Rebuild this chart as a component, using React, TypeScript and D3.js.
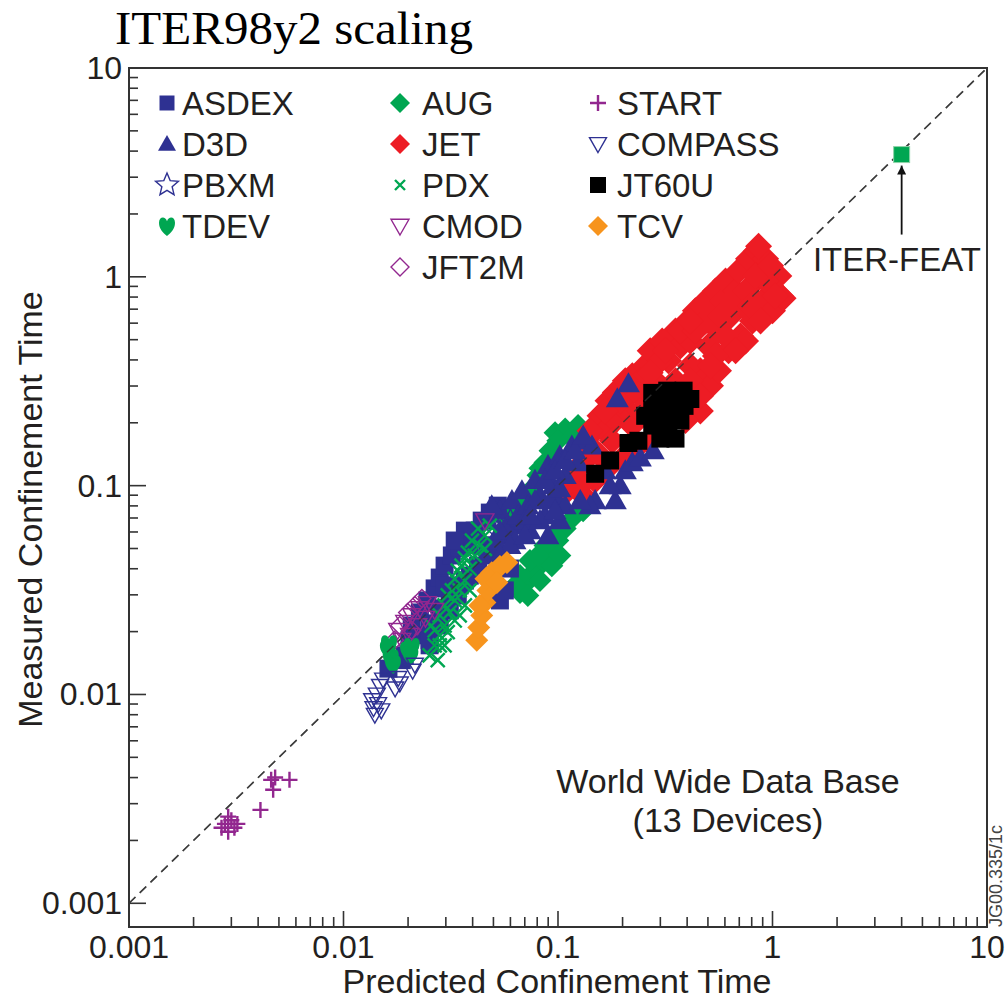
import * as d3 from 'd3';
import React, { useRef, useEffect } from 'react';

const width = 1005;
const height = 1001;
const frame = { left: 129, right: 987, top: 68, bottom: 927 };
const font = '"Liberation Sans", Arial, Helvetica, sans-serif';
const ink = '#231f20';

const xDomain = [0.001, 10];
const yDomain = [0.00077, 10];
const majorTicks = [0.001, 0.01, 0.1, 1, 10];
const majorLabels = ['0.001', '0.01', '0.1', '1', '10'];

// [predicted, measured]
const ASDEX = [
  [0.0162, 0.0133], [0.0187, 0.0146], [0.0203, 0.0182], [0.0208, 0.0214], [0.0227, 0.0247],
  [0.0246, 0.0282], [0.0266, 0.0322], [0.0281, 0.0363], [0.0296, 0.0414], [0.032, 0.0463],
  [0.0348, 0.0503], [0.038, 0.0546], [0.0409, 0.0609], [0.0441, 0.068], [0.0481, 0.0743],
  [0.0524, 0.0802], [0.0227, 0.0192], [0.0252, 0.0219], [0.0281, 0.0258], [0.0313, 0.0298],
  [0.0348, 0.0333], [0.0388, 0.0371], [0.0424, 0.0414], [0.0471, 0.0463], [0.0508, 0.0517],
  [0.0565, 0.0577], [0.063, 0.0644], [0.0536, 0.0282], [0.0565, 0.0315], [0.0597, 0.0401],
  [0.0252, 0.0172], [0.0193, 0.0154], [0.0368, 0.0609], [0.033, 0.0546], [0.0481, 0.0517],
  [0.0313, 0.0253], [0.0281, 0.0214], [0.0341, 0.0298], [0.0368, 0.0351], [0.0252, 0.0182],
  [0.0296, 0.0333],
];
const D3D = [
  [0.0388, 0.0517], [0.0432, 0.0577], [0.0471, 0.068], [0.0508, 0.0546], [0.0536, 0.0759],
  [0.0565, 0.0623], [0.061, 0.0848], [0.0651, 0.0719], [0.0679, 0.0946], [0.0723, 0.0802],
  [0.074, 0.0609], [0.0781, 0.106], [0.0824, 0.0896], [0.087, 0.0719], [0.0898, 0.125],
  [0.0948, 0.1], [0.0998, 0.0848], [0.102, 0.139], [0.108, 0.112], [0.108, 0.0802],
  [0.116, 0.155], [0.124, 0.129], [0.134, 0.164], [0.149, 0.0848], [0.185, 0.0848],
  [0.195, 0.1], [0.206, 0.118], [0.222, 0.129], [0.242, 0.136], [0.278, 0.147],
  [0.189, 0.261], [0.213, 0.308], [0.102, 0.068], [0.0898, 0.0577], [0.141, 0.0802],
  [0.166, 0.118], [0.175, 0.1], [0.144, 0.155], [0.087, 0.106], [0.0969, 0.118],
  [0.108, 0.132], [0.12, 0.147], [0.131, 0.173], [0.0781, 0.0848], [0.0918, 0.0848],
  [0.0701, 0.068], [0.0824, 0.068], [0.063, 0.0546], [0.0536, 0.0609], [0.127, 0.0848],
  [0.102, 0.0967], [0.0597, 0.0517], [0.0701, 0.0577], [0.0536, 0.0463], [0.074, 0.0719],
  [0.0969, 0.0759], [0.0491, 0.0802],
];
const PBXM = [[0.045, 0.052], [0.052, 0.06], [0.06, 0.068]];
const TDEV = [
  [0.0161, 0.0166], [0.0166, 0.015], [0.017, 0.014], [0.02, 0.0163], [0.0208, 0.017],
  [0.0205, 0.0155], [0.0163, 0.0175],
];
const AUG = [
  [0.108, 0.187], [0.124, 0.194], [0.141, 0.187], [0.0969, 0.179], [0.0998, 0.164],
  [0.0918, 0.147], [0.087, 0.129], [0.0824, 0.121], [0.0807, 0.112], [0.0756, 0.0967],
  [0.0723, 0.0915], [0.0701, 0.0866], [0.0651, 0.0802], [0.0597, 0.0743], [0.0565, 0.0695],
  [0.116, 0.17], [0.0665, 0.0308], [0.0715, 0.0344], [0.0781, 0.0392], [0.0665, 0.0371],
  [0.0842, 0.0438], [0.0918, 0.0489], [0.0998, 0.0546], [0.108, 0.0623], [0.116, 0.0695],
  [0.131, 0.0759], [0.074, 0.0438], [0.087, 0.0517], [0.063, 0.0333], [0.0807, 0.0463],
  [0.0969, 0.0577], [0.0936, 0.0414], [0.102, 0.0463], [0.0824, 0.0351], [0.0723, 0.0298],
];
const JET = [
  [0.111, 0.095], [0.124, 0.108], [0.131, 0.129], [0.141, 0.155], [0.149, 0.183],
  [0.157, 0.216], [0.171, 0.255], [0.185, 0.279], [0.166, 0.183], [0.185, 0.205],
  [0.206, 0.233], [0.199, 0.301], [0.222, 0.336], [0.242, 0.269], [0.255, 0.375],
  [0.269, 0.442], [0.284, 0.318], [0.306, 0.493], [0.327, 0.396], [0.353, 0.551],
  [0.372, 0.467], [0.393, 0.601], [0.414, 0.493], [0.437, 0.687], [0.461, 0.582],
  [0.487, 0.766], [0.503, 0.467], [0.525, 0.65], [0.542, 0.856], [0.56, 0.551],
  [0.585, 0.766], [0.604, 0.955], [0.624, 0.442], [0.637, 0.65], [0.673, 0.856],
  [0.695, 1.07], [0.71, 0.521], [0.725, 0.725], [0.773, 1.22], [0.79, 0.904],
  [0.807, 0.615], [0.843, 1.33], [0.88, 1.07], [0.899, 0.766], [0.929, 1.22],
  [0.98, 0.904], [1.0, 0.687], [1.07, 1.01], [1.09, 0.81], [0.461, 0.355],
  [0.514, 0.301], [0.56, 0.355], [0.414, 0.255], [0.461, 0.228], [0.393, 0.205],
  [0.175, 0.125], [0.199, 0.135], [0.229, 0.15], [0.264, 0.164], [0.149, 0.106],
  [0.131, 0.0896], [0.157, 0.139], [0.222, 0.194], [0.3, 0.205], [0.179, 0.164],
  [0.213, 0.269], [0.3, 0.269], [0.353, 0.318], [0.414, 0.375], [0.3, 0.396],
  [0.242, 0.318], [0.929, 0.955], [0.861, 1.4], [1.12, 0.79], [0.749, 0.493],
  [0.195, 0.255], [0.229, 0.285], [0.269, 0.347], [0.317, 0.442], [0.372, 0.551],
  [0.437, 0.551], [0.487, 0.615], [0.414, 0.615], [0.572, 0.65], [0.637, 0.766],
  [0.749, 0.856], [0.834, 1.01], [0.98, 1.13], [0.604, 0.521], [0.673, 0.442],
  [0.542, 0.418], [0.414, 0.318], [0.353, 0.255], [0.461, 0.269], [0.514, 0.375],
  [0.79, 0.725], [0.88, 0.615], [1.03, 0.81], [0.166, 0.228], [0.141, 0.183],
  [0.206, 0.318], [0.242, 0.228], [0.127, 0.1], [0.12, 0.118],
];
const PDX = [
  [0.0252, 0.0154], [0.0266, 0.0172], [0.0281, 0.0192], [0.0257, 0.0214], [0.0296, 0.0214],
  [0.0313, 0.0247], [0.0281, 0.0239], [0.033, 0.0282], [0.0306, 0.0298], [0.0348, 0.0315],
  [0.0368, 0.0351], [0.033, 0.0358], [0.0388, 0.04], [0.0355, 0.0414], [0.0409, 0.0463],
  [0.038, 0.0478], [0.0432, 0.0517], [0.0397, 0.0546], [0.0456, 0.0577], [0.0424, 0.0623],
  [0.0481, 0.0644], [0.0348, 0.0239], [0.0368, 0.0267], [0.0296, 0.0172], [0.0275, 0.0146],
  [0.0296, 0.0267], [0.032, 0.0315], [0.0341, 0.0392], [0.0368, 0.0448], [0.0281, 0.0172],
  [0.0266, 0.0203], [0.0306, 0.0199], [0.033, 0.0226], [0.0388, 0.0315], [0.0456, 0.0498],
];
const CMOD = [
  [0.0179, 0.0203], [0.0193, 0.0222], [0.0208, 0.0239], [0.0227, 0.0258], [0.0246, 0.0273],
  [0.0187, 0.0182], [0.0203, 0.0192], [0.0222, 0.0214], [0.0241, 0.0232], [0.0266, 0.0253],
  [0.0456, 0.068],
];
const JFT2M = [
  [0.0183, 0.0214], [0.0199, 0.0247], [0.0215, 0.0267], [0.0232, 0.0288], [0.0173, 0.0182],
  [0.0208, 0.0203],
];
const START = [
  [0.0027, 0.0023], [0.0028, 0.0024], [0.0029, 0.0022], [0.003, 0.0025], [0.0031, 0.0023],
  [0.0029, 0.0026], [0.0032, 0.0024], [0.0041, 0.0028], [0.0046, 0.0039], [0.0047, 0.0035],
  [0.0056, 0.0039], [0.0048, 0.004],
];
const COMPASS = [
  [0.0136, 0.0094], [0.0138, 0.0086], [0.014, 0.008], [0.0143, 0.01], [0.0145, 0.009],
  [0.0148, 0.011], [0.0153, 0.0118], [0.015, 0.0084], [0.0174, 0.0107], [0.018, 0.012],
  [0.0183, 0.0113], [0.0215, 0.0139], [0.021, 0.013],
];
const JT60U = [
  [0.275, 0.278], [0.323, 0.285], [0.385, 0.285], [0.275, 0.233], [0.323, 0.241],
  [0.389, 0.241], [0.275, 0.194], [0.327, 0.2], [0.372, 0.205], [0.3, 0.168],
  [0.353, 0.168], [0.213, 0.16], [0.237, 0.164], [0.175, 0.132], [0.149, 0.114],
  [0.255, 0.216], [0.414, 0.26], [0.3, 0.26], [0.35, 0.26], [0.3, 0.215], [0.35, 0.225],
];
const TCV = [
  [0.0418, 0.0182], [0.0427, 0.0209], [0.0441, 0.0239], [0.0456, 0.0276], [0.0471, 0.0315],
  [0.0461, 0.0358], [0.0491, 0.0383], [0.0536, 0.041], [0.0578, 0.0428], [0.0519, 0.0344],
  [0.0432, 0.0267],
];
const ITER_FEAT = [4, 3.85];

const legendColumns = [
  ['ASDEX', 'D3D', 'PBXM', 'TDEV'],
  ['AUG', 'JET', 'PDX', 'CMOD', 'JFT2M'],
  ['START', 'COMPASS', 'JT60U', 'TCV'],
];

const navy = '#2e3192';
const green = '#00a651';
const red = '#ed1c24';
const purple = '#92278f';
const orange = '#f7941d';

const devices = {
  ASDEX: { data: ASDEX, shape: 'square', color: navy, filled: true, size: 9, legendSize: 7.5 },
  D3D: { data: D3D, shape: 'triUp', color: navy, filled: true, size: 11.5, legendSize: 9 },
  PBXM: { data: PBXM, shape: 'star', color: navy, filled: false, size: 12, legendSize: 12 },
  TDEV: { data: TDEV, shape: 'heart', color: green, filled: true, size: 8, legendSize: 8 },
  AUG: { data: AUG, shape: 'diamond', color: green, filled: true, size: 11.5, legendSize: 10 },
  JET: { data: JET, shape: 'diamond', color: red, filled: true, size: 13.5, legendSize: 10 },
  PDX: { data: PDX, shape: 'cross', color: green, filled: false, size: 7, legendSize: 5 },
  CMOD: { data: CMOD, shape: 'triDown', color: purple, filled: false, size: 9, legendSize: 9 },
  JFT2M: { data: JFT2M, shape: 'diamond', color: purple, filled: false, size: 9, legendSize: 9 },
  START: { data: START, shape: 'plus', color: purple, filled: false, size: 8, legendSize: 8 },
  COMPASS: { data: COMPASS, shape: 'triDown', color: navy, filled: false, size: 8.5, legendSize: 8.5 },
  JT60U: { data: JT60U, shape: 'square', color: '#000', filled: true, size: 9, legendSize: 8 },
  TCV: { data: TCV, shape: 'diamond', color: orange, filled: true, size: 11.5, legendSize: 10 },
};

const drawOrder = ['AUG', 'JET', 'ASDEX', 'PBXM', 'D3D', 'JT60U', 'PDX', 'CMOD', 'JFT2M', 'TDEV', 'COMPASS', 'TCV', 'START'];

function shapePath(shape, r) {
  switch (shape) {
    case 'square':
      return `M${-r},${-r}H${r}V${r}H${-r}Z`;
    case 'diamond':
      return `M0,${-r}L${r},0L0,${r}L${-r},0Z`;
    case 'triUp':
      return `M0,${-r}L${r},${r * 0.75}L${-r},${r * 0.75}Z`;
    case 'triDown':
      return `M0,${r}L${r},${-r * 0.75}L${-r},${-r * 0.75}Z`;
    case 'cross':
      return `M${-r},${-r}L${r},${r}M${r},${-r}L${-r},${r}`;
    case 'plus':
      return `M${-r},0H${r}M0,${-r}V${r}`;
    case 'star': {
      const pts = [];
      for (let i = 0; i < 10; i++) {
        const rad = i % 2 === 0 ? r : r * 0.45;
        const a = -Math.PI / 2 + (i * Math.PI) / 5;
        pts.push(`${rad * Math.cos(a)},${rad * Math.sin(a)}`);
      }
      return 'M' + pts.join('L') + 'Z';
    }
    case 'heart':
      return `M0,${-0.6 * r}C${0.2 * r},${-1.25 * r} ${r},${-1.2 * r} ${r},${-0.4 * r}C${r},${0.35 * r} ${0.5 * r},${0.85 * r} 0,${1.25 * r}C${-0.5 * r},${0.85 * r} ${-r},${0.35 * r} ${-r},${-0.4 * r}C${-r},${-1.2 * r} ${-0.2 * r},${-1.25 * r} 0,${-0.6 * r}Z`;
    default:
      return '';
  }
}

function styleMark(sel, d) {
  if (d.filled) {
    sel.attr('fill', d.color).attr('stroke', 'none');
  } else {
    sel.attr('fill', 'none').attr('stroke', d.color)
      .attr('stroke-width', d.shape === 'cross' || d.shape === 'plus' ? 2.4 : 1.4);
  }
}

const App = () => {
  const svgRef = useRef(null);

  useEffect(() => {
    const svg = d3.select(svgRef.current);
    svg.selectAll('*').remove();

    const x = d3.scaleLog().domain(xDomain).range([frame.left, frame.right]);
    const y = d3.scaleLog().domain(yDomain).range([frame.bottom, frame.top]);

    // title
    svg.append('text')
      .attr('x', 115).attr('y', 44)
      .attr('textLength', 358)
      .attr('lengthAdjust', 'spacingAndGlyphs')
      .style('font-family', '"Liberation Serif", "DejaVu Serif", serif')
      .style('font-size', '46px')
      .attr('fill', '#000')
      .text('ITER98y2 scaling');

    svg.append('defs').append('clipPath').attr('id', 'plot-clip')
      .append('rect')
      .attr('x', frame.left).attr('y', frame.top)
      .attr('width', frame.right - frame.left).attr('height', frame.bottom - frame.top);

    // diagonal y = x
    svg.append('line')
      .attr('x1', x(0.001)).attr('y1', y(0.001))
      .attr('x2', x(10)).attr('y2', y(10))
      .style('stroke', '#555')
      .style('stroke-width', 1.6)
      .style('stroke-dasharray', '9,6');

    const plot = svg.append('g').attr('clip-path', 'url(#plot-clip)');
    drawOrder.forEach(name => {
      const d = devices[name];
      plot.append('g').selectAll('path')
        .data(d.data)
        .join('path')
        .attr('transform', p => `translate(${x(p[0])},${y(p[1])})`)
        .attr('d', shapePath(d.shape, d.size))
        .call(sel => styleMark(sel, d));
    });

    // dashes stay visible on top of the cloud
    svg.append('line')
      .attr('x1', x(0.001)).attr('y1', y(0.001))
      .attr('x2', x(10)).attr('y2', y(10))
      .style('stroke', '#333')
      .style('stroke-opacity', 0.75)
      .style('stroke-width', 1.4)
      .style('stroke-dasharray', '9,6');

    // ITER-FEAT prediction
    svg.append('rect')
      .attr('x', x(ITER_FEAT[0]) - 8).attr('y', y(ITER_FEAT[1]) - 8)
      .attr('width', 16).attr('height', 16)
      .attr('fill', '#00a651').attr('stroke', '#8fd3a8').attr('stroke-width', 1);
    svg.append('defs').append('marker')
      .attr('id', 'arrowhead')
      .attr('viewBox', '0 0 10 10')
      .attr('refX', 10).attr('refY', 5)
      .attr('markerWidth', 5).attr('markerHeight', 5)
      .attr('markerUnits', 'strokeWidth')
      .attr('orient', 'auto')
      .append('path').attr('d', 'M0,0L10,5L0,10Z').attr('fill', '#111');
    svg.append('line')
      .attr('x1', x(ITER_FEAT[0])).attr('y1', y(ITER_FEAT[1]) + 80)
      .attr('x2', x(ITER_FEAT[0])).attr('y2', y(ITER_FEAT[1]) + 11)
      .style('stroke', '#111').style('stroke-width', 1.8)
      .attr('marker-end', 'url(#arrowhead)');
    svg.append('text')
      .attr('x', frame.right - 6).attr('y', y(ITER_FEAT[1]) + 116)
      .attr('text-anchor', 'end')
      .style('font-family', font).style('font-size', '33px')
      .attr('fill', ink)
      .text('ITER-FEAT');

    // frame
    svg.append('rect')
      .attr('x', frame.left).attr('y', frame.top)
      .attr('width', frame.right - frame.left).attr('height', frame.bottom - frame.top)
      .attr('fill', 'none').attr('stroke', '#333').attr('stroke-width', 2);

    const isMajor = v => Math.abs(Math.log10(v) - Math.round(Math.log10(v))) < 1e-6;

    // x ticks (inward)
    svg.append('g').selectAll('line')
      .data(x.ticks())
      .join('line')
      .attr('x1', v => x(v)).attr('x2', v => x(v))
      .attr('y1', frame.bottom).attr('y2', v => frame.bottom - (isMajor(v) ? 16 : 10))
      .attr('stroke', '#333').attr('stroke-width', 1.6);
    svg.append('g').selectAll('text')
      .data(majorTicks)
      .join('text')
      .attr('x', v => x(v)).attr('y', 958)
      .attr('text-anchor', 'middle')
      .style('font-family', font).style('font-size', '32px')
      .attr('fill', ink)
      .text((_, i) => majorLabels[i]);

    // y ticks (inward)
    svg.append('g').selectAll('line')
      .data(y.ticks().filter(v => v >= 0.001 * 0.999))
      .join('line')
      .attr('y1', v => y(v)).attr('y2', v => y(v))
      .attr('x1', frame.left).attr('x2', v => frame.left + (isMajor(v) ? 17 : 9))
      .attr('stroke', '#333').attr('stroke-width', 1.6);
    svg.append('g').selectAll('text')
      .data(majorTicks)
      .join('text')
      .attr('x', frame.left - 7).attr('y', v => y(v) + 11)
      .attr('text-anchor', 'end')
      .style('font-family', font).style('font-size', '32px')
      .attr('fill', ink)
      .text((_, i) => majorLabels[i]);

    // axis titles
    svg.append('text')
      .attr('transform', `translate(42,${(frame.top + frame.bottom) / 2 + 12}) rotate(-90)`)
      .attr('text-anchor', 'middle')
      .style('font-family', font).style('font-size', '34px')
      .attr('fill', ink)
      .text('Measured Confinement Time');
    svg.append('text')
      .attr('x', 557).attr('y', 993)
      .attr('text-anchor', 'middle')
      .style('font-family', font).style('font-size', '34px')
      .attr('fill', ink)
      .text('Predicted Confinement Time');

    // legend
    const colMarkX = [167, 400, 598];
    const colTextX = [182, 422, 617];
    legendColumns.forEach((names, c) => {
      names.forEach((name, r) => {
        const d = devices[name];
        const base = 115 + r * 41;
        const mark = svg.append('path')
          .attr('transform', `translate(${colMarkX[c]},${base - 12})`)
          .attr('d', shapePath(d.shape, d.legendSize));
        styleMark(mark, d);
        svg.append('text')
          .attr('x', colTextX[c]).attr('y', base)
          .style('font-family', font).style('font-size', '33px')
          .attr('fill', ink)
          .text(name);
      });
    });

    // note
    const note = svg.append('text')
      .attr('text-anchor', 'middle')
      .style('font-family', font).style('font-size', '34px')
      .attr('fill', ink);
    note.append('tspan').attr('x', 728).attr('y', 793).text('World Wide Data Base');
    note.append('tspan').attr('x', 728).attr('y', 832).text('(13 Devices)');

    svg.append('text')
      .attr('transform', `translate(1002,${frame.bottom}) rotate(-90)`)
      .style('font-family', font).style('font-size', '18px')
      .attr('fill', '#444')
      .text('JG00.335/1c');
  }, []);

  return (
    <svg
      ref={svgRef}
      width={width}
      height={height}
      style={{ position: 'absolute', left: 0, top: 0, background: '#fff' }}
    />
  );
};

export default App;
